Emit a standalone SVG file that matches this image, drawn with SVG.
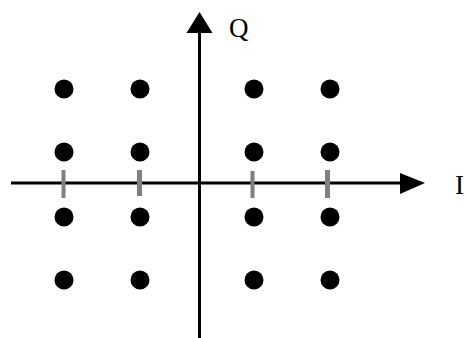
<svg xmlns="http://www.w3.org/2000/svg" width="467" height="338" viewBox="0 0 467 338">
<style>
.ax{stroke:#000;stroke-width:3;fill:none}
.dot{fill:#000}
.tick{fill:#808080}
.lbl{font-family:"Liberation Serif",serif;font-size:27px;fill:#000}
</style>
<rect width="467" height="338" fill="#fff"/>
<g id="connectors">
<line class="ax" x1="199.5" y1="30" x2="199.5" y2="338"/>
<polygon points="199.5,12 186.5,33 212.5,33" fill="#000"/>
<line class="ax" x1="11" y1="183" x2="404" y2="183"/>
<polygon points="425,183 400,173 400,194" fill="#000"/>
</g>
<g id="ticks">
<rect class="tick" x="61.5" y="170" width="4" height="28"/>
<rect class="tick" x="137" y="170" width="5" height="26"/>
<rect class="tick" x="250.5" y="171" width="4" height="27"/>
<rect class="tick" x="325" y="170" width="5" height="28"/>
</g>
<g id="points">
<circle class="dot" cx="64" cy="89" r="9.5"/>
<circle class="dot" cx="140" cy="89" r="9.5"/>
<circle class="dot" cx="254" cy="89" r="9.5"/>
<circle class="dot" cx="330" cy="89" r="9.5"/>
<circle class="dot" cx="64" cy="152" r="9.5"/>
<circle class="dot" cx="140" cy="152" r="9.5"/>
<circle class="dot" cx="254" cy="152" r="9.5"/>
<circle class="dot" cx="330" cy="152" r="9.5"/>
<circle class="dot" cx="64" cy="217" r="9.5"/>
<circle class="dot" cx="140" cy="217" r="9.5"/>
<circle class="dot" cx="254" cy="217" r="9.5"/>
<circle class="dot" cx="330" cy="217" r="9.5"/>
<circle class="dot" cx="64" cy="280" r="9.5"/>
<circle class="dot" cx="140" cy="280" r="9.5"/>
<circle class="dot" cx="254" cy="280" r="9.5"/>
<circle class="dot" cx="330" cy="280" r="9.5"/>
</g>
<g id="label-Q"><text class="lbl" x="229" y="37">Q</text></g>
<g id="label-I"><text class="lbl" x="455" y="194">I</text></g>
</svg>
